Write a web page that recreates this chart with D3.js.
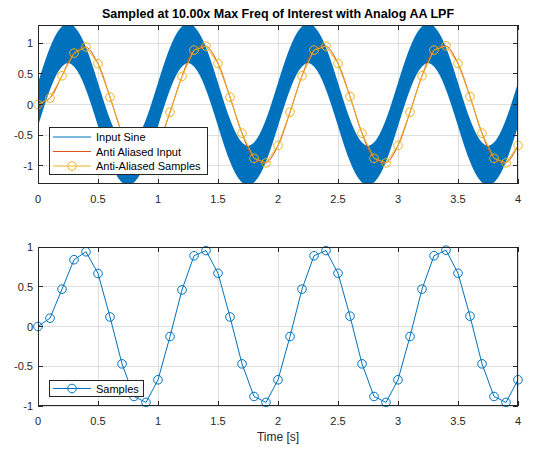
<!DOCTYPE html>
<html><head><meta charset="utf-8">
<script src="https://cdn.jsdelivr.net/npm/d3@7"></script>
<style>
body{margin:0;background:#fff;}
svg{display:block;font-family:"Liberation Sans",Arial,Helvetica,sans-serif;}
</style></head>
<body><svg id="c" width="549" height="451"></svg>
<script>
// ---- data ----
const title = "Sampled at 10.00x Max Freq of Interest with Analog AA LPF";
const xLabel = "Time [s]";
const xTicks = [0, 0.5, 1, 1.5, 2, 2.5, 3, 3.5, 4];
const xTickLabels = ["0", "0.5", "1", "1.5", "2", "2.5", "3", "3.5", "4"];
const yTicks = [-1, -0.5, 0, 0.5, 1];
const yTickLabels = ["-1", "-0.5", "0", "0.5", "1"];
const legendTop = ["Input Sine", "Anti Aliased Input", "Anti-Aliased Samples"];
const legendBottom = ["Samples"];

// input sine centre (read every 0.05 s) and half-width of its fast ripple band
const inputTime = [0,0.05,0.1,0.15,0.2,0.25,0.3,0.35,0.4,0.45,0.5,0.55,0.6,0.65,0.7,0.75,0.8,0.85,0.9,0.95,
  1,1.05,1.1,1.15,1.2,1.25,1.3,1.35,1.4,1.45,1.5,1.55,1.6,1.65,1.7,1.75,1.8,1.85,1.9,1.95,
  2,2.05,2.1,2.15,2.2,2.25,2.3,2.35,2.4,2.45,2.5,2.55,2.6,2.65,2.7,2.75,2.8,2.85,2.9,2.95,
  3,3.05,3.1,3.15,3.2,3.25,3.3,3.35,3.4,3.45,3.5,3.55,3.6,3.65,3.7,3.75,3.8,3.85,3.9,3.95,4];
const inputCentre = [0,0.31,0.59,0.81,0.95,1,0.95,0.81,0.59,0.31,0,-0.31,-0.59,-0.81,-0.95,-1,-0.95,-0.81,-0.59,-0.31,
  0,0.31,0.59,0.81,0.95,1,0.95,0.81,0.59,0.31,0,-0.31,-0.59,-0.81,-0.95,-1,-0.95,-0.81,-0.59,-0.31,
  0,0.31,0.59,0.81,0.95,1,0.95,0.81,0.59,0.31,0,-0.31,-0.59,-0.81,-0.95,-1,-0.95,-0.81,-0.59,-0.31,
  0,0.31,0.59,0.81,0.95,1,0.95,0.81,0.59,0.31,0,-0.31,-0.59,-0.81,-0.95,-1,-0.95,-0.81,-0.59,-0.31,0];
const rippleHalfWidth = 0.31;

// samples every 0.1 s
const sampleTime = [0,0.1,0.2,0.3,0.4,0.5,0.6,0.7,0.8,0.9,1,1.1,1.2,1.3,1.4,1.5,1.6,1.7,1.8,1.9,
  2,2.1,2.2,2.3,2.4,2.5,2.6,2.7,2.8,2.9,3,3.1,3.2,3.3,3.4,3.5,3.6,3.7,3.8,3.9,4];
const sampleValue = [0,0.105,0.47,0.84,0.94,0.667,0.12,-0.47,-0.88,-0.955,
  -0.67,-0.126,0.46,0.89,0.955,0.67,0.12,-0.47,-0.88,-0.955,
  -0.67,-0.126,0.47,0.89,0.955,0.67,0.13,-0.47,-0.88,-0.955,
  -0.67,-0.126,0.47,0.89,0.96,0.67,0.13,-0.47,-0.88,-0.955,-0.67];

// ---- drawing ----
const C = {blue:"#0072BD", orange:"#D95319", yellow:"#EDB120", axis:"#262626", grid:"#dfdfdf"};
const svg = d3.select("#c");
const L = 38, R = 518;
const panels = [
  {top:25, bottom:184, ylim:[-1.3, 1.3], id:"p1"},
  {top:247, bottom:406, ylim:[-1, 1], id:"p2"}
];
const x = d3.scaleLinear().domain([0,4]).range([L,R]);

svg.append("text").attr("x",(L+R)/2).attr("y",18).attr("text-anchor","middle")
  .attr("font-size","12.5px").attr("font-weight","bold").attr("fill","#000").text(title);

const samples = sampleTime.map((t,i)=>({t, v:sampleValue[i]}));
const inputPts = inputTime.map((t,i)=>({t, v:inputCentre[i]}));

panels.forEach((p, pi) => {
  const y = d3.scaleLinear().domain(p.ylim).range([p.bottom, p.top]);
  p.y = y;
  const defs = svg.append("defs");
  defs.append("clipPath").attr("id","clip"+pi).append("rect")
    .attr("x",L).attr("y",p.top).attr("width",R-L).attr("height",p.bottom-p.top);
  // grid
  const g = svg.append("g");
  g.selectAll(".gx").data(xTicks).enter().append("line")
    .attr("x1",d=>x(d)).attr("x2",d=>x(d)).attr("y1",p.top).attr("y2",p.bottom)
    .attr("stroke",C.grid).attr("stroke-width",1).attr("shape-rendering","crispEdges");
  g.selectAll(".gy").data(yTicks).enter().append("line")
    .attr("y1",d=>y(d)).attr("y2",d=>y(d)).attr("x1",L).attr("x2",R)
    .attr("stroke",C.grid).attr("stroke-width",1).attr("shape-rendering","crispEdges");

  const plot = svg.append("g").attr("clip-path","url(#clip"+pi+")");
  if (pi === 0) {
    const area = d3.area().curve(d3.curveNatural)
      .x(d=>x(d.t)).y0(d=>y(d.v - rippleHalfWidth)).y1(d=>y(d.v + rippleHalfWidth));
    plot.append("path").datum(inputPts).attr("d",area).attr("fill",C.blue)
      .attr("stroke",C.blue).attr("stroke-width",1.6);
    const smooth = d3.line().curve(d3.curveCatmullRom.alpha(0.5)).x(d=>x(d.t)).y(d=>y(d.v));
    plot.append("path").datum(samples).attr("d",smooth).attr("fill","none")
      .attr("stroke",C.orange).attr("stroke-width",1);
  }
  const col = pi === 0 ? C.yellow : C.blue;
  const lin = d3.line().x(d=>x(d.t)).y(d=>y(d.v));
  plot.append("path").datum(samples).attr("d",lin).attr("fill","none")
    .attr("stroke",col).attr("stroke-width",1);
  svg.append("g").selectAll("circle").data(samples).enter().append("circle")
    .attr("cx",d=>x(d.t)).attr("cy",d=>y(d.v)).attr("r",4.3)
    .attr("fill","none").attr("stroke",col).attr("stroke-width",1);

  // axes box
  const ax = svg.append("g");
  ax.append("rect").attr("x",L+0.5).attr("y",p.top+0.5).attr("width",R-L-1).attr("height",p.bottom-p.top-1)
    .attr("fill","none").attr("stroke",C.axis).attr("stroke-width",1).attr("shape-rendering","crispEdges");
  const tl = 5;
  xTicks.forEach(t => {
    ax.append("line").attr("x1",x(t)).attr("x2",x(t)).attr("y1",p.bottom).attr("y2",p.bottom-tl)
      .attr("stroke",C.axis).attr("shape-rendering","crispEdges");
    ax.append("line").attr("x1",x(t)).attr("x2",x(t)).attr("y1",p.top).attr("y2",p.top+tl)
      .attr("stroke",C.axis).attr("shape-rendering","crispEdges");
  });
  yTicks.forEach(t => {
    ax.append("line").attr("y1",y(t)).attr("y2",y(t)).attr("x1",L).attr("x2",L+tl)
      .attr("stroke",C.axis).attr("shape-rendering","crispEdges");
    ax.append("line").attr("y1",y(t)).attr("y2",y(t)).attr("x1",R).attr("x2",R-tl)
      .attr("stroke",C.axis).attr("shape-rendering","crispEdges");
  });
  ax.selectAll(".xl").data(xTicks).enter().append("text")
    .attr("x",d=>x(d)).attr("y",p.bottom+18.5).attr("text-anchor","middle")
    .attr("font-size","11px").attr("fill",C.axis).text((d,i)=>xTickLabels[i]);
  ax.selectAll(".yl").data(yTicks).enter().append("text")
    .attr("x",L-5).attr("y",d=>y(d)+4).attr("text-anchor","end")
    .attr("font-size","11px").attr("fill",C.axis).text((d,i)=>yTickLabels[i]);

  // legend
  const lg = svg.append("g");
  if (pi === 0) {
    lg.append("rect").attr("x",49.5).attr("y",127.5).attr("width",158).attr("height",47)
      .attr("fill","#fff").attr("stroke",C.axis).attr("stroke-width",1).attr("shape-rendering","crispEdges");
    const ys = [137, 151.5, 166];
    const cols = [C.blue, C.orange, C.yellow];
    legendTop.forEach((name,i)=>{
      lg.append("line").attr("x1",53).attr("x2",91).attr("y1",ys[i]).attr("y2",ys[i])
        .attr("stroke",cols[i]).attr("stroke-width",1);
      if (i===2) lg.append("circle").attr("cx",72).attr("cy",ys[i]).attr("r",4.3)
        .attr("fill","none").attr("stroke",cols[i]);
      lg.append("text").attr("x",96).attr("y",ys[i]+4).attr("font-size","11px")
        .attr("fill","#000").text(name);
    });
  } else {
    lg.append("rect").attr("x",49.5).attr("y",380.5).attr("width",94).attr("height",16)
      .attr("fill","#fff").attr("stroke",C.axis).attr("stroke-width",1).attr("shape-rendering","crispEdges");
    lg.append("line").attr("x1",53).attr("x2",91).attr("y1",388.5).attr("y2",388.5)
      .attr("stroke",C.blue).attr("stroke-width",1);
    lg.append("circle").attr("cx",72).attr("cy",388.5).attr("r",4.3).attr("fill","none").attr("stroke",C.blue);
    lg.append("text").attr("x",96).attr("y",392.5).attr("font-size","11px").attr("fill","#000").text(legendBottom[0]);
  }
});

svg.append("text").attr("x",(L+R)/2).attr("y",441).attr("text-anchor","middle")
  .attr("font-size","12px").attr("fill",C.axis).text(xLabel);
</script></body></html>
